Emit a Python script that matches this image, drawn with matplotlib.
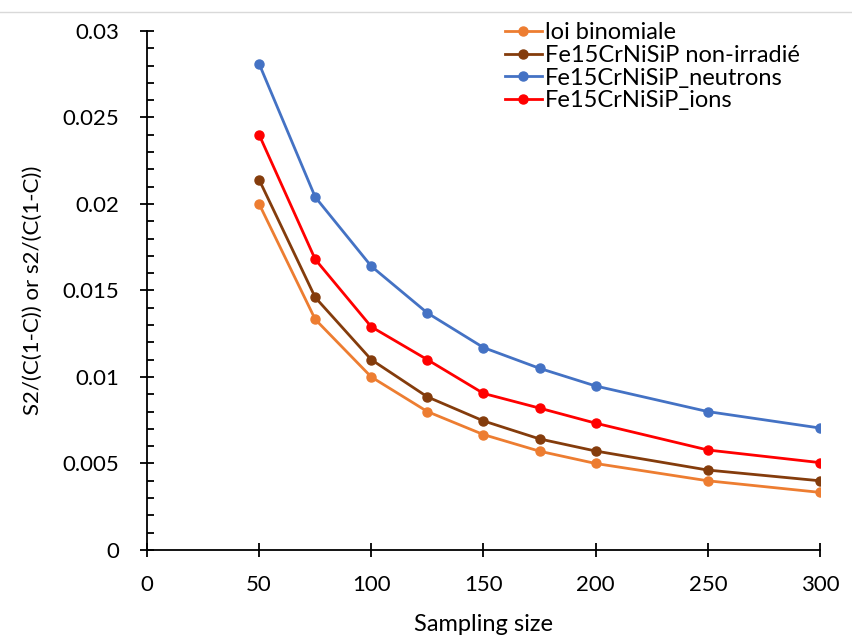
import matplotlib
matplotlib.use('Agg')
import matplotlib.pyplot as plt
from matplotlib.lines import Line2D
from matplotlib.ticker import MultipleLocator, FuncFormatter

plt.rcParams['font.family'] = ['Lato', 'DejaVu Sans']

sizes = [50, 75, 100, 125, 150, 175, 200, 250, 300]
binomiale = [0.0200, 0.01333, 0.0100, 0.0080, 0.00667, 0.00571, 0.0050, 0.0040, 0.00333]
non_irradie = [0.0214, 0.0146, 0.0110, 0.00885, 0.00746, 0.00642, 0.00572, 0.00462, 0.0040]
neutrons = [0.0281, 0.0204, 0.0164, 0.0137, 0.0117, 0.0105, 0.00948, 0.0080, 0.00705]
ions = [0.0240, 0.0168, 0.0129, 0.0110, 0.00905, 0.0082, 0.00733, 0.00578, 0.00505]

series = [
    ('loi binomiale', binomiale, '#ED7D31'),
    ('Fe15CrNiSiP non-irradié', non_irradie, '#843C0C'),
    ('Fe15CrNiSiP_neutrons', neutrons, '#4472C4'),
    ('Fe15CrNiSiP_ions', ions, '#FF0000'),
]

fig = plt.figure(figsize=(8.53, 6.39), dpi=100)
ax = fig.add_axes([0.1723, 0.1393, 0.789, 0.8122])

for label, vals, color in series:
    ax.plot(sizes, vals, color=color, lw=2, marker='o', ms=6.5, label=label)

ax.set_xlim(0, 300)
ax.set_ylim(0, 0.03)
ax.xaxis.set_major_locator(MultipleLocator(50))
ax.yaxis.set_major_locator(MultipleLocator(0.005))
ax.yaxis.set_minor_locator(MultipleLocator(0.001))
ax.yaxis.set_major_formatter(FuncFormatter(lambda v, p: '0' if v == 0 else ('%g' % round(v, 4))))

for s in ['top', 'right']:
    ax.spines[s].set_visible(False)
for s in ['left', 'bottom']:
    ax.spines[s].set_linewidth(1.3)
    ax.spines[s].set_color('black')

ax.tick_params(axis='both', which='major', direction='inout', length=10, width=1.3,
               labelsize=16)
ax.tick_params(axis='x', which='major', pad=13)
ax.tick_params(axis='y', which='major', pad=15)
ax.tick_params(axis='y', which='minor', direction='in', length=5, width=1.3)

ax.set_xlabel('Sampling size', fontsize=17, labelpad=14)
ax.set_ylabel('S2/(C(1-C)) or s2/(C(1-C))', fontsize=16, labelpad=14)

ax.legend(loc='upper left', bbox_to_anchor=(0.581, 0.98), bbox_transform=fig.transFigure,
          frameon=False, fontsize=17, handlelength=1.55, handletextpad=0.15,
          labelspacing=0.07, borderaxespad=0)

fig.add_artist(Line2D([0, 1], [1 - 12 / 639, 1 - 12 / 639], color='#d9d9d9', lw=1,
                      transform=fig.transFigure))

fig.savefig('out.png', dpi=100)
